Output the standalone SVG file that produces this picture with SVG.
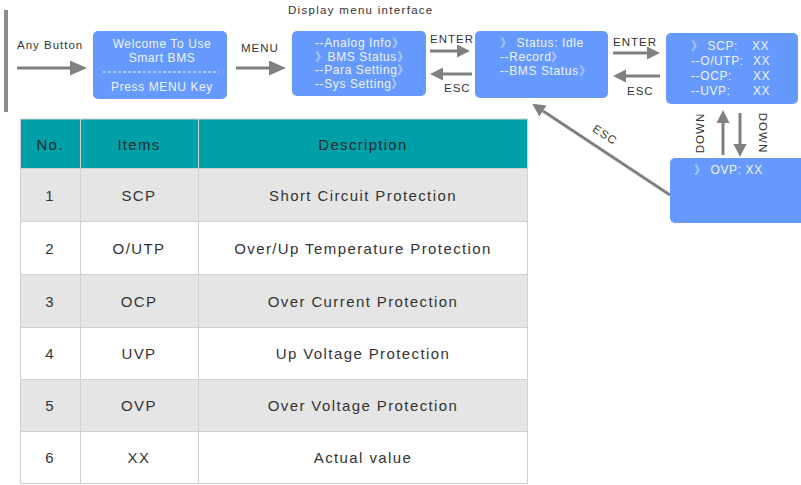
<svg xmlns="http://www.w3.org/2000/svg" width="801" height="485" viewBox="0 0 801 485">
<defs>
<style>
.box{fill:#6699fd}
.bt{font-family:"Liberation Sans",Arial,sans-serif;font-size:12px;fill:#eef3ff;letter-spacing:0.6px}
.lbl{font-family:"Liberation Sans",Arial,sans-serif;font-size:11.5px;fill:#333;letter-spacing:1px}
.arr{stroke:#808080;stroke-width:3;fill:none}
.th{font-family:"Liberation Sans",Arial,sans-serif;font-size:15px;fill:#1e2a2a;letter-spacing:1.3px;text-anchor:middle}
.td{font-family:"Liberation Sans",Arial,sans-serif;font-size:15px;fill:#333;letter-spacing:1.4px;text-anchor:middle}
.g{fill:#e5e5e5}
.w{fill:#ffffff}
.grid{stroke:#d0d0d0;stroke-width:1;fill:none}
</style>
<marker id="hb" markerUnits="userSpaceOnUse" markerWidth="18" markerHeight="16" refX="0" refY="7.5" orient="auto"><path d="M0,0 L17,7.5 L0,15 z" fill="#808080"/></marker>
<marker id="hs" markerUnits="userSpaceOnUse" markerWidth="14" markerHeight="14" refX="0" refY="6.5" orient="auto"><path d="M0,0 L13,6.5 L0,13 z" fill="#808080"/></marker>
</defs>
<rect width="801" height="485" fill="#ffffff"/>
<rect x="4" y="10" width="4" height="102" fill="#8a8a8a"/>
<text class="lbl" x="288" y="14" style="letter-spacing:1.3px">Display menu interface</text>

<g id="welcome">
<rect class="box" x="93" y="31" width="134" height="68" rx="5"/>
<text class="bt" x="162" y="48" text-anchor="middle">Welcome To Use</text>
<text class="bt" x="162" y="62" text-anchor="middle">Smart BMS</text>
<line x1="103" y1="72" x2="219" y2="72" stroke="#eef3ff" stroke-width="1" stroke-dasharray="3,2"/>
<text class="bt" x="162" y="91" text-anchor="middle">Press  MENU Key</text>
</g>

<g id="menu">
<rect class="box" x="292" y="31" width="134" height="65" rx="5"/>
<text class="bt" x="315" y="47">--Analog Info》</text>
<text class="bt" x="315" y="61">》BMS Status》</text>
<text class="bt" x="315" y="74">--Para Setting》</text>
<text class="bt" x="315" y="88">--Sys Setting》</text>
</g>

<g id="status">
<rect class="box" x="475" y="31" width="133" height="67" rx="5"/>
<text class="bt" x="500" y="47">》 Status: Idle</text>
<text class="bt" x="500" y="61">--Record》</text>
<text class="bt" x="500" y="75">--BMS Status》</text>
</g>

<g id="protect">
<rect class="box" x="666" y="33" width="132" height="71" rx="5"/>
<text class="bt" x="691" y="50">》 SCP:</text><text class="bt" x="752" y="50">XX</text>
<text class="bt" x="691" y="65">--O/UTP:</text><text class="bt" x="753" y="65">XX</text>
<text class="bt" x="691" y="80">--OCP:</text><text class="bt" x="753" y="80">XX</text>
<text class="bt" x="691" y="95">--UVP:</text><text class="bt" x="753" y="95">XX</text>
</g>

<g id="ovp">
<rect class="box" x="670" y="158" width="136" height="65" rx="5"/>
<text class="bt" x="694" y="174">》 OVP:  XX</text>
</g>

<g id="connectors">
<line class="arr" x1="17" y1="68" x2="70" y2="68" marker-end="url(#hb)"/>
<text class="lbl" x="17" y="49">Any Button</text>
<line class="arr" x1="236" y1="68" x2="269" y2="68" marker-end="url(#hb)"/>
<text class="lbl" x="241" y="52">MENU</text>
<line class="arr" x1="430" y1="51" x2="457" y2="51" marker-end="url(#hs)"/>
<text class="lbl" x="430" y="43">ENTER</text>
<line class="arr" x1="472" y1="74" x2="443" y2="74" marker-end="url(#hs)"/>
<text class="lbl" x="444" y="92">ESC</text>
<line class="arr" x1="613" y1="53" x2="647" y2="53" marker-end="url(#hs)"/>
<text class="lbl" x="613" y="46">ENTER</text>
<line class="arr" x1="660" y1="76" x2="626" y2="76" marker-end="url(#hs)"/>
<text class="lbl" x="627" y="95">ESC</text>
<line class="arr" x1="723" y1="155" x2="723" y2="123" marker-end="url(#hs)"/>
<line class="arr" x1="740" y1="113" x2="740" y2="144" marker-end="url(#hs)"/>
<text class="lbl" transform="translate(704,133) rotate(-90)" text-anchor="middle">DOWN</text>
<text class="lbl" transform="translate(759,133) rotate(90)" text-anchor="middle">DOWN</text>
<line class="arr" x1="670" y1="195" x2="543" y2="111" stroke-width="2.5" marker-end="url(#hs)"/>
<text class="lbl" transform="translate(603,138) rotate(33.4)" text-anchor="middle">ESC</text>
</g>

<g id="table">
<rect x="20" y="119" width="508" height="49" fill="#00a0a8"/>
<rect class="g" x="20" y="168" width="508" height="53"/>
<rect class="w" x="20" y="221" width="508" height="53"/>
<rect class="g" x="20" y="274" width="508" height="53"/>
<rect class="w" x="20" y="327" width="508" height="52"/>
<rect class="g" x="20" y="379" width="508" height="52"/>
<rect class="w" x="20" y="431" width="508" height="52"/>
<path class="grid" d="M20.5,119 V483.5 H527.5 V119 H20.5 M80.5,119 V483 M198.5,119 V483 M20,168.5 H528 M20,221.5 H528 M20,274.5 H528 M20,327.5 H528 M20,379.5 H528 M20,431.5 H528"/>
<text class="th" x="50" y="150">No.</text>
<text class="th" x="139" y="150">Items</text>
<text class="th" x="363" y="150">Description</text>
<text class="td" x="50" y="201">1</text><text class="td" x="139" y="201">SCP</text><text class="td" x="363" y="201">Short Circuit Protection</text>
<text class="td" x="50" y="254">2</text><text class="td" x="139" y="254">O/UTP</text><text class="td" x="363" y="254">Over/Up Temperature Protection</text>
<text class="td" x="50" y="307">3</text><text class="td" x="139" y="307">OCP</text><text class="td" x="363" y="307">Over Current Protection</text>
<text class="td" x="50" y="359">4</text><text class="td" x="139" y="359">UVP</text><text class="td" x="363" y="359">Up Voltage Protection</text>
<text class="td" x="50" y="411">5</text><text class="td" x="139" y="411">OVP</text><text class="td" x="363" y="411">Over Voltage Protection</text>
<text class="td" x="50" y="463">6</text><text class="td" x="139" y="463">XX</text><text class="td" x="363" y="463">Actual value</text>
</g>
</svg>
